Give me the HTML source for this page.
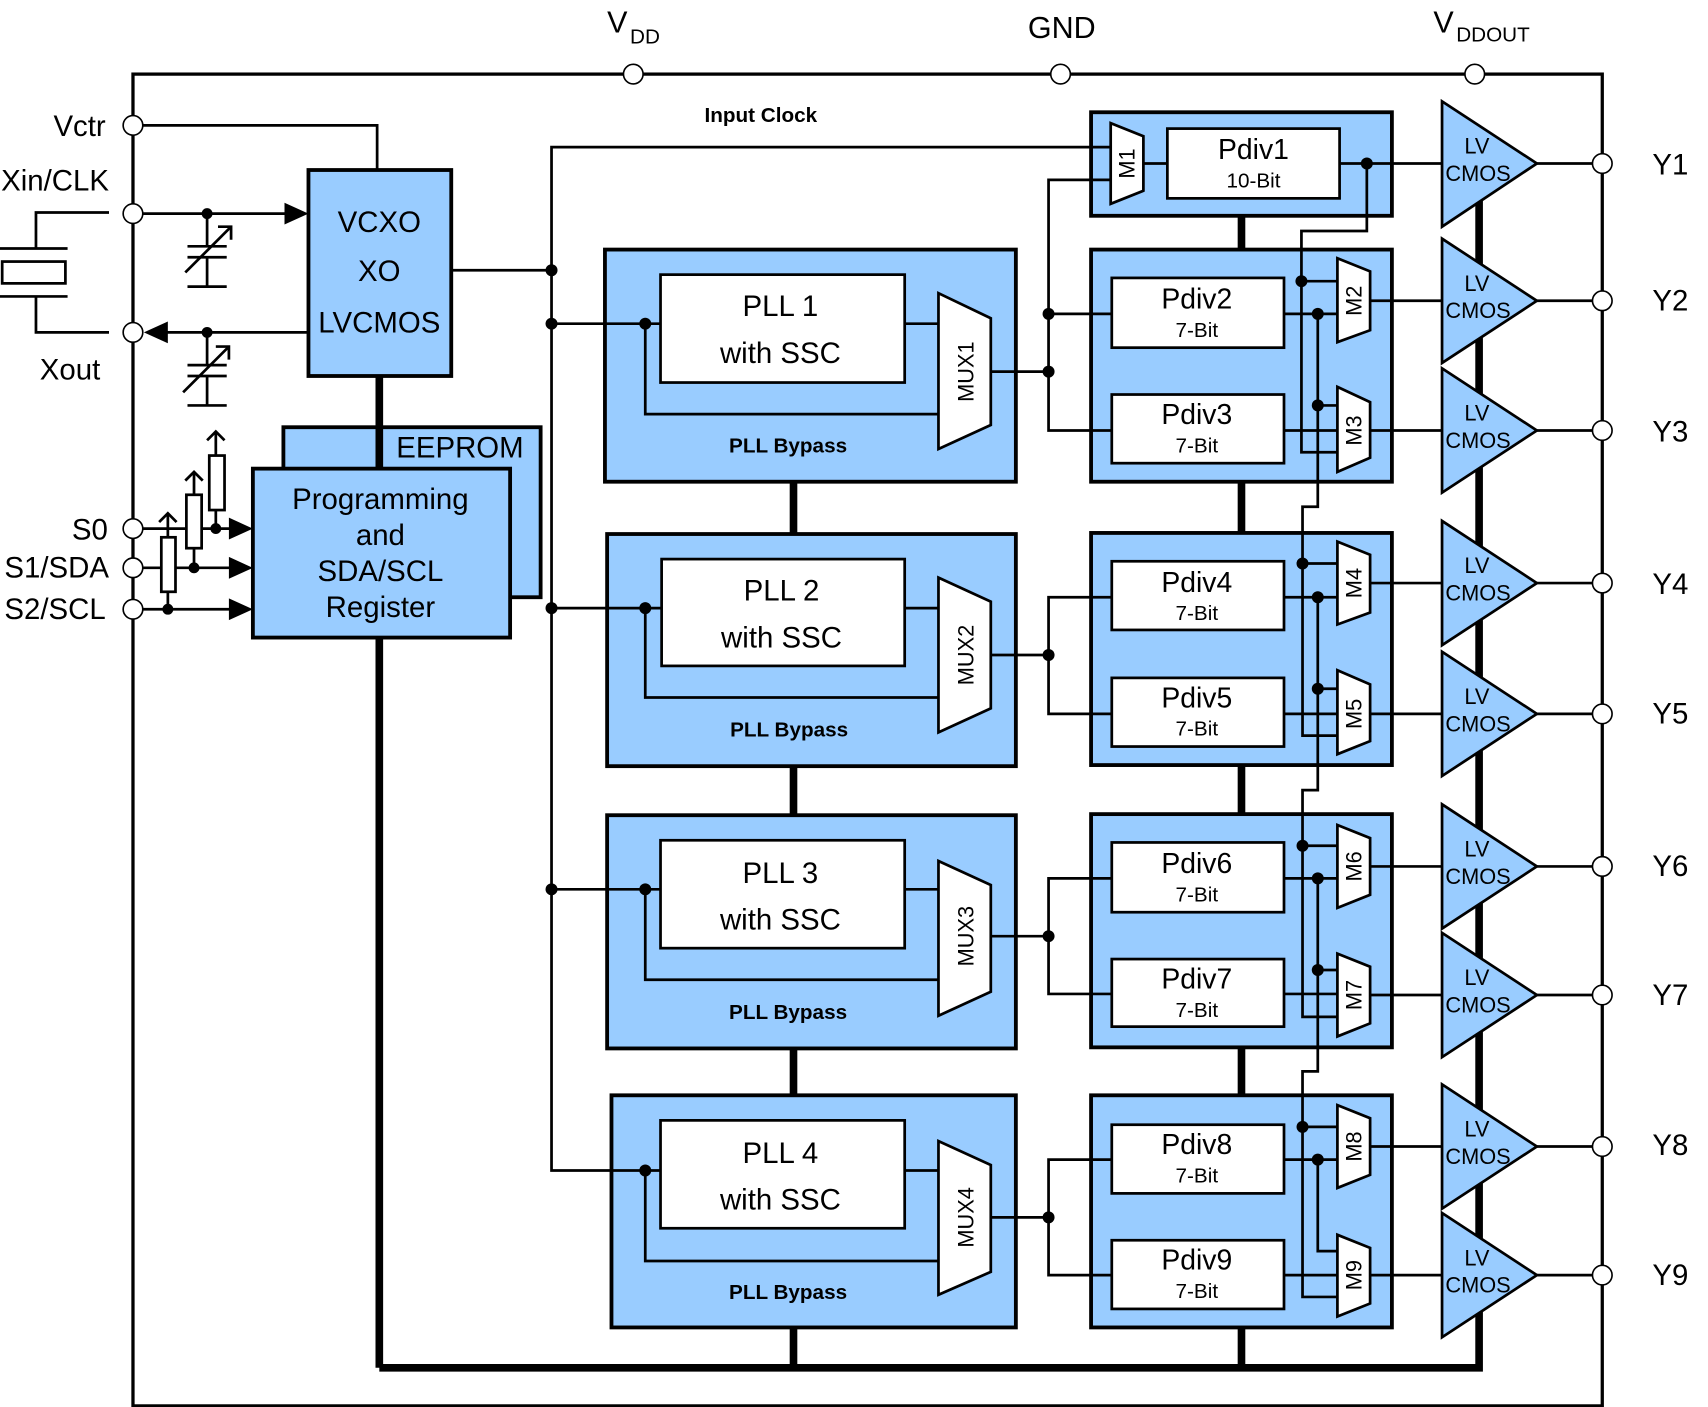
<!DOCTYPE html>
<html><head><meta charset="utf-8"><style>
html,body{margin:0;padding:0;background:#fff;}
svg{display:block;}
text{font-family:"Liberation Sans",Arial,sans-serif;fill:#000;}
</style></head><body>
<svg width="1708" height="1407" viewBox="0 0 1567 1291" preserveAspectRatio="none" xmlns="http://www.w3.org/2000/svg">
<g fill="none" stroke="#000">
<rect x="122" y="68" width="1348" height="1222" stroke-width="3"/>
<g stroke-width="7">
<line x1="348" y1="345" x2="348" y2="1255"/>
<polyline points="348,1255 1357,1255 1357,150"/>
<line x1="728" y1="440" x2="728" y2="1255"/>
<line x1="1139" y1="196" x2="1139" y2="1255"/>
</g>
</g>
<!-- blue block backgrounds -->
<g stroke="#000" fill="#99ccff" stroke-width="3.5">
<rect x="555" y="229" width="377" height="213"/>
<rect x="557" y="490" width="375" height="213"/>
<rect x="557" y="748" width="375" height="214"/>
<rect x="561" y="1005" width="371" height="213"/>
<rect x="1001" y="103" width="276" height="95"/>
<rect x="1001" y="229" width="276" height="213"/>
<rect x="1001" y="489" width="276" height="213"/>
<rect x="1001" y="747" width="276" height="214"/>
<rect x="1001" y="1005" width="276" height="213"/>
</g>
<text x="557" y="30" font-size="28">V</text><text x="578" y="40" font-size="19">DD</text>
<text x="943" y="35" font-size="28">GND</text>
<text x="1315" y="30" font-size="28">V</text><text x="1336" y="38" font-size="19">DDOUT</text>
<text x="698" y="112" font-size="19" font-weight="bold" text-anchor="middle">Input Clock</text>
<g font-size="27" text-anchor="end">
<text x="97" y="125">Vctr</text>
<text x="100" y="175">Xin/CLK</text>
<text x="92" y="348">Xout</text>
<text x="99" y="495">S0</text>
<text x="100" y="530">S1/SDA</text>
<text x="97" y="568">S2/SCL</text>
</g>
<g font-size="27">
<text x="1516" y="160">Y1</text><text x="1516" y="285">Y2</text><text x="1516" y="405">Y3</text>
<text x="1516" y="545">Y4</text><text x="1516" y="664">Y5</text><text x="1516" y="804">Y6</text>
<text x="1516" y="922">Y7</text><text x="1516" y="1060">Y8</text><text x="1516" y="1179">Y9</text>
</g>

<g fill="none" stroke="#000" stroke-width="2.5">
<polyline points="100,195 33,195 33,228"/>
<line x1="0" y1="228" x2="62" y2="228"/>
<rect x="2" y="240" width="58" height="20"/>
<line x1="0" y1="272" x2="62" y2="272"/>
<polyline points="33,272 33,305 100,305"/>
<polyline points="131,115 346,115 346,156"/>
<line x1="131" y1="196" x2="265" y2="196"/>
<line x1="190" y1="196" x2="190" y2="226"/><line x1="172" y1="226" x2="208" y2="226"/>
<line x1="172" y1="236" x2="208" y2="236"/><line x1="190" y1="236" x2="190" y2="263"/>
<line x1="172" y1="263" x2="208" y2="263"/>
<line x1="170" y1="250" x2="212" y2="208"/><polyline points="200,208 212,208 212,220"/>
<line x1="148" y1="305" x2="283" y2="305"/>
<line x1="190" y1="305" x2="190" y2="335"/><line x1="172" y1="335" x2="208" y2="335"/>
<line x1="172" y1="345" x2="208" y2="345"/><line x1="190" y1="345" x2="190" y2="372"/>
<line x1="172" y1="372" x2="208" y2="372"/>
<line x1="168" y1="360" x2="210" y2="318"/><polyline points="198,318 210,318 210,330"/>
<line x1="414" y1="248" x2="506" y2="248"/>
<polyline points="1019,135 506,135 506,1074 606,1074"/>
<line x1="506" y1="297" x2="606" y2="297"/>
<line x1="506" y1="558" x2="607" y2="558"/>
<line x1="506" y1="816" x2="606" y2="816"/>
<line x1="131" y1="485" x2="212" y2="485"/>
<line x1="131" y1="521" x2="212" y2="521"/>
<line x1="131" y1="559" x2="212" y2="559"/>
<line x1="154" y1="543" x2="154" y2="559"/><line x1="154" y1="493" x2="154" y2="471"/>
<polyline points="146,479 154,471 162,479"/>
<line x1="178" y1="503" x2="178" y2="521"/><line x1="178" y1="454" x2="178" y2="433"/>
<polyline points="170,441 178,433 186,441"/>
<line x1="198" y1="468" x2="198" y2="485"/><line x1="198" y1="418" x2="198" y2="396"/>
<polyline points="190,404 198,396 206,404"/>
</g>
<g fill="#fff" stroke="#000" stroke-width="2.5">
<rect x="148" y="493" width="13" height="50"/>
<rect x="171" y="454" width="14" height="49"/>
<rect x="192" y="418" width="14" height="50"/>
</g>
<g fill="#000">
<polygon points="283,196 261,186 261,206"/>
<polygon points="132,305 154,295 154,315"/>
<polygon points="232,485 210,475 210,495"/>
<polygon points="232,521 210,511 210,531"/>
<polygon points="232,559 210,549 210,569"/>
</g>

<rect x="283" y="156" width="131" height="189" fill="#99ccff" stroke="#000" stroke-width="3.5"/>
<g font-size="27" text-anchor="middle">
<text x="348" y="213">VCXO</text><text x="348" y="258">XO</text><text x="348" y="305">LVCMOS</text>
</g>
<rect x="260" y="392" width="236" height="156" fill="#99ccff" stroke="#000" stroke-width="3.5"/>
<line x1="348" y1="392" x2="348" y2="430" stroke="#000" stroke-width="7"/>
<text x="422" y="420" font-size="27" text-anchor="middle">EEPROM</text>
<rect x="232" y="430" width="236" height="155" fill="#99ccff" stroke="#000" stroke-width="3.5"/>
<g font-size="27" text-anchor="middle">
<text x="349" y="467">Programming</text><text x="349" y="500">and</text>
<text x="349" y="533">SDA/SCL</text><text x="349" y="566">Register</text>
</g>

<g fill="none" stroke="#000" stroke-width="2.5">
<polyline points="592,297 592,380 861,380"/><line x1="830" y1="297" x2="861" y2="297"/><polyline points="909,341 962,341"/>
<polyline points="592,558 592,640 861,640"/><line x1="830" y1="558" x2="861" y2="558"/><polyline points="909,601 962,601"/>
<polyline points="592,816 592,899 861,899"/><line x1="830" y1="816" x2="861" y2="816"/><polyline points="909,859 962,859"/>
<polyline points="592,1074 592,1157 861,1157"/><line x1="830" y1="1074" x2="861" y2="1074"/><polyline points="909,1117 962,1117"/>
</g>
<g fill="#fff" stroke="#000" stroke-width="2.5">
<rect x="606" y="252" width="224" height="99"/>
<rect x="607" y="513" width="223" height="98"/>
<rect x="606" y="771" width="224" height="99"/>
<rect x="606" y="1028" width="224" height="99"/>
<polygon points="861,269 909,292 909,390 861,412"/>
<polygon points="861,530 909,552 909,650 861,672"/>
<polygon points="861,790 909,812 909,910 861,932"/>
<polygon points="861,1047 909,1069 909,1167 861,1188"/>
</g>
<g font-size="27" text-anchor="middle">
<text x="716" y="290">PLL 1</text><text x="716" y="333">with SSC</text>
<text x="717" y="551">PLL 2</text><text x="717" y="594">with SSC</text>
<text x="716" y="810">PLL 3</text><text x="716" y="853">with SSC</text>
<text x="716" y="1067">PLL 4</text><text x="716" y="1110">with SSC</text>
</g>
<g font-size="19" font-weight="bold" text-anchor="middle">
<text x="723" y="415">PLL Bypass</text><text x="724" y="676">PLL Bypass</text>
<text x="723" y="935">PLL Bypass</text><text x="723" y="1192">PLL Bypass</text>
</g>
<g font-size="20" text-anchor="middle">
<text transform="translate(893,341) rotate(-90)">MUX1</text>
<text transform="translate(893,601) rotate(-90)">MUX2</text>
<text transform="translate(893,859) rotate(-90)">MUX3</text>
<text transform="translate(893,1117) rotate(-90)">MUX4</text>
</g>

<g fill="none" stroke="#000" stroke-width="2.5">
<polyline points="1019,165 962,165 962,395 1020,395"/><line x1="962" y1="288" x2="1020" y2="288"/>
<polyline points="1020,548 962,548 962,655 1020,655"/>
<polyline points="1020,806 962,806 962,912 1020,912"/>
<polyline points="1020,1064 962,1064 962,1170 1020,1170"/>
<line x1="1049" y1="150" x2="1071" y2="150"/>
<line x1="1229" y1="150" x2="1323" y2="150"/>
<polyline points="1254,150 1254,212 1194,212 1194,415 1227,415"/>
<line x1="1194" y1="258" x2="1227" y2="258"/>
<line x1="1178" y1="288" x2="1227" y2="288"/>
<line x1="1178" y1="395" x2="1227" y2="395"/>
<polyline points="1209,288 1209,465 1195,465 1195,675 1227,675"/>
<line x1="1209" y1="372" x2="1227" y2="372"/>
<line x1="1195" y1="517" x2="1227" y2="517"/>
<line x1="1178" y1="548" x2="1227" y2="548"/>
<line x1="1178" y1="655" x2="1227" y2="655"/>
<polyline points="1209,548 1209,725 1195,725 1195,933 1227,933"/>
<line x1="1209" y1="632" x2="1227" y2="632"/>
<line x1="1195" y1="776" x2="1227" y2="776"/>
<line x1="1178" y1="806" x2="1227" y2="806"/>
<line x1="1178" y1="912" x2="1227" y2="912"/>
<polyline points="1209,806 1209,983 1195,983 1195,1190 1227,1190"/>
<line x1="1209" y1="890" x2="1227" y2="890"/>
<line x1="1195" y1="1034" x2="1227" y2="1034"/>
<line x1="1178" y1="1064" x2="1227" y2="1064"/>
<line x1="1178" y1="1170" x2="1227" y2="1170"/>
<polyline points="1209,1064 1209,1148 1227,1148"/>
<line x1="1257" y1="276" x2="1323" y2="276"/>
<line x1="1257" y1="395" x2="1323" y2="395"/>
<line x1="1257" y1="535" x2="1323" y2="535"/>
<line x1="1257" y1="655" x2="1323" y2="655"/>
<line x1="1257" y1="795" x2="1323" y2="795"/>
<line x1="1257" y1="913" x2="1323" y2="913"/>
<line x1="1257" y1="1052" x2="1323" y2="1052"/>
<line x1="1257" y1="1170" x2="1323" y2="1170"/>
<line x1="1410" y1="150" x2="1470" y2="150"/><line x1="1410" y1="276" x2="1470" y2="276"/>
<line x1="1410" y1="395" x2="1470" y2="395"/><line x1="1410" y1="535" x2="1470" y2="535"/>
<line x1="1410" y1="655" x2="1470" y2="655"/><line x1="1410" y1="795" x2="1470" y2="795"/>
<line x1="1410" y1="913" x2="1470" y2="913"/><line x1="1410" y1="1052" x2="1470" y2="1052"/>
<line x1="1410" y1="1170" x2="1470" y2="1170"/>
</g>
<g fill="#fff" stroke="#000" stroke-width="2.5">
<rect x="1071" y="118" width="158" height="64"/>
<rect x="1020" y="255" width="158" height="64"/><rect x="1020" y="362" width="158" height="63"/>
<rect x="1020" y="515" width="158" height="63"/><rect x="1020" y="622" width="158" height="63"/>
<rect x="1020" y="773" width="158" height="64"/><rect x="1020" y="880" width="158" height="62"/>
<rect x="1020" y="1032" width="158" height="63"/><rect x="1020" y="1138" width="158" height="63"/>
<polygon points="1019,113 1049,125 1049,175 1019,187"/>
<polygon points="1227,237 1257,249 1257,303 1227,314"/>
<polygon points="1227,355 1257,369 1257,420 1227,433"/>
<polygon points="1227,497 1257,509 1257,562 1227,573"/>
<polygon points="1227,615 1257,628 1257,680 1227,692"/>
<polygon points="1227,757 1257,769 1257,821 1227,833"/>
<polygon points="1227,875 1257,887 1257,939 1227,951"/>
<polygon points="1227,1014 1257,1026 1257,1078 1227,1090"/>
<polygon points="1227,1133 1257,1145 1257,1196 1227,1208"/>
</g>
<g font-size="26" text-anchor="middle">
<text x="1150" y="146">Pdiv1</text>
<text x="1098" y="283">Pdiv2</text><text x="1098" y="389">Pdiv3</text>
<text x="1098" y="543">Pdiv4</text><text x="1098" y="649">Pdiv5</text>
<text x="1098" y="801">Pdiv6</text><text x="1098" y="907">Pdiv7</text>
<text x="1098" y="1059">Pdiv8</text><text x="1098" y="1165">Pdiv9</text>
</g>
<g font-size="19" text-anchor="middle">
<text x="1150" y="172">10-Bit</text>
<text x="1098" y="309">7-Bit</text><text x="1098" y="415">7-Bit</text>
<text x="1098" y="569">7-Bit</text><text x="1098" y="675">7-Bit</text>
<text x="1098" y="827">7-Bit</text><text x="1098" y="933">7-Bit</text>
<text x="1098" y="1085">7-Bit</text><text x="1098" y="1191">7-Bit</text>
</g>
<g font-size="20" text-anchor="middle">
<text transform="translate(1041,150) rotate(-90)">M1</text>
<text transform="translate(1249,276) rotate(-90)">M2</text>
<text transform="translate(1249,395) rotate(-90)">M3</text>
<text transform="translate(1249,535) rotate(-90)">M4</text>
<text transform="translate(1249,655) rotate(-90)">M5</text>
<text transform="translate(1249,795) rotate(-90)">M6</text>
<text transform="translate(1249,913) rotate(-90)">M7</text>
<text transform="translate(1249,1052) rotate(-90)">M8</text>
<text transform="translate(1249,1170) rotate(-90)">M9</text>
</g>

<g fill="#99ccff" stroke="#000" stroke-width="2.5">
<polygon points="1323,93 1410,150 1323,208"/>
<polygon points="1323,219 1410,276 1323,333"/>
<polygon points="1323,338 1410,395 1323,452"/>
<polygon points="1323,478 1410,535 1323,592"/>
<polygon points="1323,598 1410,655 1323,712"/>
<polygon points="1323,738 1410,795 1323,852"/>
<polygon points="1323,856 1410,913 1323,970"/>
<polygon points="1323,995 1410,1052 1323,1109"/>
<polygon points="1323,1113 1410,1170 1323,1227"/>
</g>
<g font-size="20" text-anchor="middle">
<text x="1355" y="141">LV</text><text x="1356" y="166">CMOS</text>
<text x="1355" y="267">LV</text><text x="1356" y="292">CMOS</text>
<text x="1355" y="386">LV</text><text x="1356" y="411">CMOS</text>
<text x="1355" y="526">LV</text><text x="1356" y="551">CMOS</text>
<text x="1355" y="646">LV</text><text x="1356" y="671">CMOS</text>
<text x="1355" y="786">LV</text><text x="1356" y="811">CMOS</text>
<text x="1355" y="904">LV</text><text x="1356" y="929">CMOS</text>
<text x="1355" y="1043">LV</text><text x="1356" y="1068">CMOS</text>
<text x="1355" y="1161">LV</text><text x="1356" y="1186">CMOS</text>
</g>

<g fill="#000">
<circle cx="190" cy="196" r="5"/><circle cx="190" cy="305" r="5"/>
<circle cx="154" cy="559" r="5"/><circle cx="178" cy="521" r="5"/><circle cx="198" cy="485" r="5"/>
<circle cx="506" cy="248" r="5.5"/><circle cx="506" cy="297" r="5.5"/><circle cx="506" cy="558" r="5.5"/><circle cx="506" cy="816" r="5.5"/>
<circle cx="592" cy="297" r="5.5"/><circle cx="592" cy="558" r="5.5"/><circle cx="592" cy="816" r="5.5"/><circle cx="592" cy="1074" r="5.5"/>
<circle cx="962" cy="288" r="5.5"/><circle cx="962" cy="341" r="5.5"/><circle cx="962" cy="601" r="5.5"/><circle cx="962" cy="859" r="5.5"/><circle cx="962" cy="1117" r="5.5"/>
<circle cx="1254" cy="150" r="5.5"/>
<circle cx="1194" cy="258" r="5.5"/><circle cx="1209" cy="288" r="5.5"/><circle cx="1209" cy="372" r="5.5"/>
<circle cx="1195" cy="517" r="5.5"/><circle cx="1209" cy="548" r="5.5"/><circle cx="1209" cy="632" r="5.5"/>
<circle cx="1195" cy="776" r="5.5"/><circle cx="1209" cy="806" r="5.5"/><circle cx="1209" cy="890" r="5.5"/>
<circle cx="1195" cy="1034" r="5.5"/><circle cx="1209" cy="1064" r="5.5"/>
</g>

<g fill="#fff" stroke="#000" stroke-width="1.5">
<circle cx="581" cy="68" r="9"/><circle cx="973" cy="68" r="9"/><circle cx="1353" cy="68" r="9"/>
<circle cx="122" cy="115" r="9"/><circle cx="122" cy="196" r="9"/><circle cx="122" cy="305" r="9"/>
<circle cx="122" cy="485" r="9"/><circle cx="122" cy="521" r="9"/><circle cx="122" cy="559" r="9"/>
<circle cx="1470" cy="150" r="9"/><circle cx="1470" cy="276" r="9"/><circle cx="1470" cy="395" r="9"/>
<circle cx="1470" cy="535" r="9"/><circle cx="1470" cy="655" r="9"/><circle cx="1470" cy="795" r="9"/>
<circle cx="1470" cy="913" r="9"/><circle cx="1470" cy="1052" r="9"/><circle cx="1470" cy="1170" r="9"/>
</g>
</svg>
</body></html>
